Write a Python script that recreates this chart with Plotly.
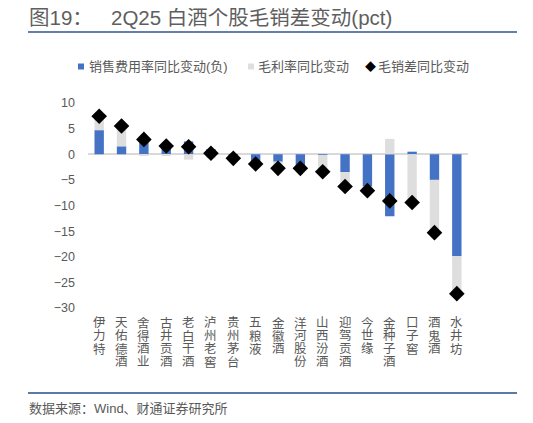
import plotly.graph_objects as go

# data (pct)
categories = ['伊力特', '天佑德酒', '舍得酒业', '古井贡酒', '老白干酒', '泸州老窖', '贵州茅台',
              '五粮液', '金徽酒', '洋河股份', '山西汾酒', '迎驾贡酒', '今世缘', '金种子酒',
              '口子窖', '酒鬼酒', '水井坊']
sales_chg = [4.7, 1.55, 3.1, 1.9, 2.5, 1.0, -0.3, -1.7, -1.45, -2.1, -0.1, -3.5, -6.3, -12.1, 0.5, -5.0, -19.9]
gross_chg = [2.7, 3.95, -0.2, -0.3, -1.05, -0.8, -0.5, -0.2, -1.3, -0.65, -3.3, -2.8, -0.8, 3.0, -9.9, -10.3, -7.3]
spread_chg = [7.4, 5.5, 2.9, 1.6, 1.45, 0.2, -0.8, -1.9, -2.75, -2.75, -3.4, -6.3, -7.1, -9.1, -9.4, -15.3, -27.2]
y_ticks = [10, 5, 0, -5, -10, -15, -20, -25, -30]
series_names = ['销售费用率同比变动(负)', '毛利率同比变动', '毛销差同比变动']

FONT = 'Arial, Liberation Sans, Noto Sans CJK SC'
GREY_TXT = '#595959'
BLUE = '#4472C4'
LIGHT = '#DEDEDE'

# page offset (body margin) and plot area in window pixels
OFF = 8
L, R, T, B = 88, 468, 103, 308
W, H = 533 - OFF, 423 - OFF


def px(x):
    return (x - L) / (R - L)


def py(y):
    return (B - y) / (B - T)


fig = go.Figure()
fig.add_trace(go.Bar(x=categories, y=sales_chg, name=series_names[0],
                     marker=dict(color=BLUE, line=dict(width=0)), width=0.42))
fig.add_trace(go.Bar(x=categories, y=gross_chg, name=series_names[1],
                     marker=dict(color=LIGHT, line=dict(width=0)), width=0.42))
fig.add_trace(go.Scatter(x=categories, y=spread_chg, name=series_names[2], mode='markers',
                         marker=dict(symbol='diamond', color='black', size=12)))

fig.update_layout(
    barmode='relative',
    width=W, height=H,
    margin=dict(l=L - OFF, r=W - (R - OFF), t=T - OFF, b=H - (B - OFF), pad=0),
    paper_bgcolor='white', plot_bgcolor='white',
    font=dict(family=FONT, color=GREY_TXT, size=13),
    showlegend=False,
    xaxis=dict(range=[-0.5, len(categories) - 0.5], showticklabels=False, showgrid=False,
               showline=False, ticks='', automargin=False),
    yaxis=dict(range=[-30, 10], tickvals=y_ticks, showgrid=False, showline=False,
               zeroline=True, zerolinecolor='#D9D9D9', zerolinewidth=1.5,
               ticks='', ticklabelstandoff=12, automargin=False,
               tickfont=dict(size=12.5, color=GREY_TXT)),
)

# vertical category labels, one character per line
for cat in categories:
    for i, ch in enumerate(cat):
        fig.add_annotation(text=ch, x=cat, xref='x', yref='paper', y=py(323 + i * 13),
                           xanchor='center', yanchor='middle', showarrow=False, borderpad=0,
                           font=dict(size=12.5, color=GREY_TXT))

# hand-built legend
leg_y = py(66.5)
fig.add_shape(type='rect', xref='paper', yref='paper', x0=px(78), x1=px(84),
              y0=py(69.5), y1=py(63.5), fillcolor=BLUE, line=dict(width=0))
fig.add_annotation(text=series_names[0], xref='paper', yref='paper', x=px(87), y=leg_y,
                   xanchor='left', yanchor='middle', showarrow=False, font=dict(size=13, color=GREY_TXT))
fig.add_shape(type='rect', xref='paper', yref='paper', x0=px(248), x1=px(254),
              y0=py(69.5), y1=py(63.5), fillcolor=LIGHT, line=dict(width=0))
fig.add_annotation(text=series_names[1], xref='paper', yref='paper', x=px(256), y=leg_y,
                   xanchor='left', yanchor='middle', showarrow=False, font=dict(size=13, color=GREY_TXT))
fig.add_annotation(text='◆', xref='paper', yref='paper', x=px(370), y=leg_y,
                   xanchor='center', yanchor='middle', showarrow=False, font=dict(size=11, color='black'))
fig.add_annotation(text=series_names[2], xref='paper', yref='paper', x=px(376), y=leg_y,
                   xanchor='left', yanchor='middle', showarrow=False, font=dict(size=13, color=GREY_TXT))

# title, source and rules
fig.add_annotation(text='图19：', xref='paper', yref='paper', x=px(28), y=py(17.5),
                   xanchor='left', yanchor='middle', showarrow=False, borderpad=0,
                   font=dict(size=20.5, color='#5f5f5f'))
fig.add_annotation(text='2Q25 白酒个股毛销差变动(pct)', xref='paper', yref='paper', x=px(110), y=py(17.5),
                   xanchor='left', yanchor='middle', showarrow=False, borderpad=0,
                   font=dict(size=20.5, color='#5f5f5f'))
fig.add_annotation(text='数据来源：Wind、财通证券研究所', xref='paper', yref='paper', x=px(27), y=py(408),
                   xanchor='left', yanchor='middle', showarrow=False,
                   font=dict(size=13, color=GREY_TXT))

fig.add_shape(type='line', xref='paper', yref='paper', x0=px(28), x1=px(517), y0=py(32), y1=py(32),
              line=dict(color='#2F5597', width=1.5))
fig.add_shape(type='line', xref='paper', yref='paper', x0=px(28), x1=px(517), y0=py(393), y1=py(393),
              line=dict(color='#1F4E8C', width=1.5))

fig.write_html('out.html')
